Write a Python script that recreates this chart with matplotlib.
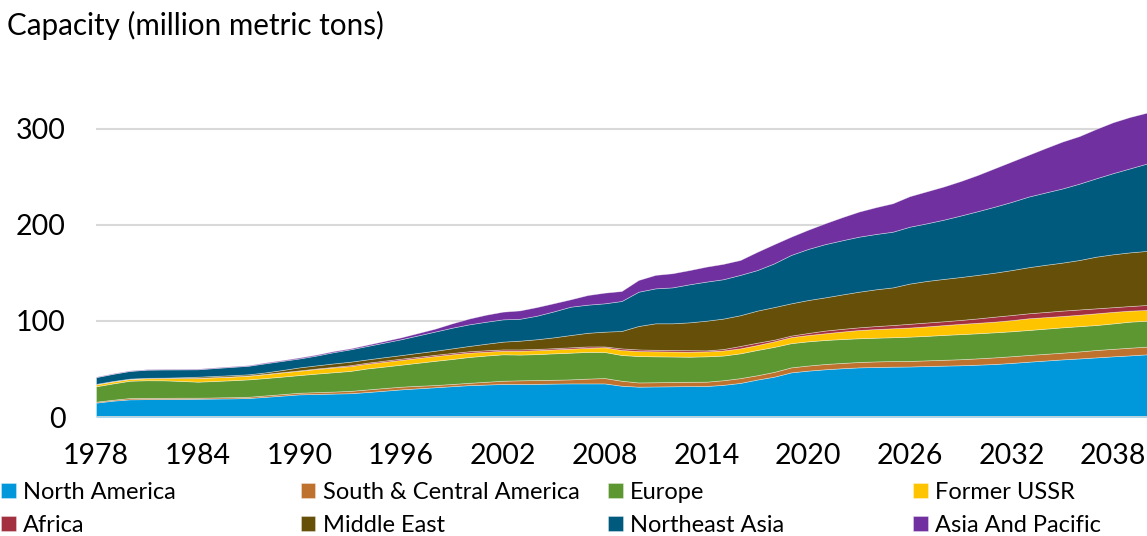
import numpy as np
import matplotlib
matplotlib.use("Agg")
import matplotlib.pyplot as plt

plt.rcParams['font.family'] = ['Lato', 'DejaVu Sans']

years = list(range(1978, 2041))

# cumulative tops, per region (bottom to top)
na_top = [15.0, 17.0, 18.4, 18.6, 18.7, 18.8, 19.0, 19.2, 19.4, 19.8, 21.0, 22.3, 23.6, 24.0, 24.4, 24.8,
          26.0, 27.4, 28.8, 29.9, 31.0, 32.1, 33.2, 33.8, 34.4, 34.4, 34.5, 34.8, 35.0, 35.0, 35.0, 32.6,
          31.6, 31.8, 32.0, 32.2, 32.3, 33.5, 35.5, 39.0, 42.0, 46.5, 48.3, 49.7, 50.8, 51.7, 52.1, 52.4,
          52.6, 53.1, 53.5, 53.9, 54.5, 55.2, 56.3, 57.6, 58.8, 60.0, 61.0, 62.1, 63.2, 64.2, 65.3]
sca_top = [16.0, 18.0, 19.8, 20.0, 20.0, 20.1, 20.1, 20.4, 20.7, 21.1, 22.5, 23.9, 25.3, 25.9, 26.5, 27.2,
           28.7, 30.2, 31.6, 32.5, 33.3, 34.4, 35.6, 36.7, 37.8, 38.2, 38.5, 38.8, 39.2, 40.0, 40.6, 37.8,
           36.0, 36.2, 36.5, 36.7, 36.8, 38.3, 40.5, 43.5, 47.0, 51.7, 53.6, 55.2, 56.3, 57.3, 57.9, 58.3,
           58.4, 59.0, 59.6, 60.2, 61.1, 62.1, 63.3, 64.6, 65.8, 67.0, 68.3, 69.8, 71.0, 72.2, 73.3]
eu_top = [32.0, 35.0, 37.8, 38.3, 38.2, 37.6, 36.8, 37.5, 38.3, 39.2, 40.6, 42.1, 43.7, 45.2, 46.6, 48.0,
          50.6, 52.5, 54.5, 56.5, 58.5, 60.4, 62.5, 64.0, 65.3, 65.0, 65.5, 66.3, 67.0, 67.8, 67.7, 64.6,
          63.5, 63.2, 63.0, 62.8, 63.2, 64.0, 66.3, 69.8, 73.0, 76.9, 78.8, 80.2, 81.2, 82.0, 82.6, 83.1,
          83.7, 84.5, 85.5, 86.3, 87.2, 88.2, 89.3, 90.6, 92.0, 93.4, 94.6, 95.8, 97.5, 99.3, 100.3]
fsu_top = [34.0, 37.0, 39.6, 40.3, 40.4, 40.5, 40.6, 41.3, 42.0, 43.0, 44.7, 46.5, 48.2, 50.0, 51.6, 53.0,
           55.5, 57.5, 59.5, 61.5, 63.5, 65.3, 67.0, 68.0, 69.0, 69.0, 69.6, 70.4, 71.2, 72.0, 72.6, 69.8,
           68.7, 68.4, 68.2, 68.0, 68.3, 69.3, 71.5, 75.0, 78.8, 83.2, 85.4, 87.2, 89.0, 90.6, 91.6, 92.4,
           93.2, 94.4, 95.7, 97.0, 98.1, 99.3, 100.9, 102.8, 104.0, 105.2, 106.5, 108.0, 109.5, 110.8, 111.5]
af_top = [34.2, 37.2, 39.8, 40.5, 40.6, 40.7, 40.8, 41.6, 42.3, 43.3, 45.0, 46.8, 48.6, 50.5, 52.2, 54.0,
          56.6, 58.7, 60.8, 62.8, 64.8, 66.7, 68.5, 69.5, 70.4, 70.4, 70.9, 71.7, 72.6, 73.5, 73.5, 71.5,
          70.4, 70.0, 69.8, 69.6, 69.4, 70.8, 74.0, 77.4, 80.5, 84.8, 87.5, 90.0, 91.8, 93.4, 94.7, 95.8,
          97.1, 98.4, 99.7, 101.1, 102.7, 104.5, 106.2, 108.0, 109.4, 110.8, 112.0, 113.2, 114.4, 115.6, 116.7]
me_top = [34.5, 37.5, 40.0, 40.8, 41.0, 41.4, 42.0, 42.8, 43.6, 44.5, 46.5, 49.0, 51.7, 53.8, 55.8, 57.6,
          60.0, 62.3, 64.5, 66.8, 69.0, 71.5, 74.0, 76.3, 78.5, 79.5, 81.0, 83.0, 85.4, 87.7, 88.9, 89.6,
          94.8, 97.6, 97.6, 98.6, 100.3, 102.5, 106.0, 110.8, 114.5, 118.4, 121.8, 124.6, 127.6, 130.5, 133.0, 135.0,
          139.0, 141.7, 143.8, 145.8, 148.0, 150.3, 153.0, 156.0, 158.5, 160.8, 163.5, 167.0, 169.5, 171.5, 173.0]
nea_top = [41.5, 45.0, 48.0, 49.3, 49.5, 49.6, 49.7, 51.0, 52.2, 53.4, 56.0, 58.5, 61.0, 64.0, 67.5, 70.5,
           74.0, 77.5, 81.0, 85.0, 89.0, 93.0, 96.5, 99.2, 101.7, 102.3, 105.5, 110.0, 114.9, 117.0, 118.4, 120.8,
           130.5, 134.0, 135.0, 138.2, 141.0, 143.5, 148.0, 153.0, 160.0, 168.8, 175.0, 180.0, 184.0, 187.8, 190.6, 193.0,
           198.2, 201.7, 205.5, 209.8, 214.3, 219.0, 224.0, 229.5, 233.8, 238.0, 243.0, 248.6, 254.0, 259.0, 264.0]
ap_top = [42.0, 45.5, 48.5, 49.8, 50.0, 50.1, 50.3, 51.6, 52.8, 54.0, 56.8, 59.3, 62.0, 65.0, 68.6, 71.5,
          75.3, 79.1, 83.0, 87.5, 92.0, 97.5, 102.5, 106.5, 109.7, 111.0, 114.5, 118.5, 122.6, 127.0, 129.5, 131.2,
          142.7, 148.0, 149.7, 153.0, 156.6, 159.5, 163.5, 172.0, 180.0, 187.8, 195.0, 201.7, 208.0, 213.9, 218.5, 222.6,
          230.0, 235.0, 240.0, 245.7, 252.0, 259.0, 266.0, 273.0, 280.0, 286.8, 292.5, 300.0, 307.0, 312.5, 317.0]

names = ['North America', 'South & Central America', 'Europe', 'Former USSR',
         'Africa', 'Middle East', 'Northeast Asia', 'Asia And Pacific']
colors = ['#0098DA', '#BE722E', '#5C9732', '#FFC400', '#A3303F', '#654F09', '#005A7E', '#7030A0']

tops = np.array([na_top, sca_top, eu_top, fsu_top, af_top, me_top, nea_top, ap_top])
layers = np.diff(np.vstack([np.zeros(len(years)), tops]), axis=0)

fig = plt.figure(figsize=(11.47, 5.36), dpi=100)
ax = fig.add_axes([0.0837, 0.222, 0.9163, 0.627])

polys = ax.stackplot(years, layers, colors=colors, labels=names,
                     edgecolor=(1, 1, 1, 0.45), linewidth=0.5, zorder=2)

ax.set_xlim(1978, 2040)
ax.set_ylim(0, 350)
ax.set_yticks([0, 100, 200, 300])
ax.set_xticks(list(range(1978, 2040, 6)))
ax.grid(axis='y', color='#d9d9d9', linewidth=1.5, zorder=0)
ax.axhline(0, color='#d9d9d9', linewidth=2, zorder=3)
for s in ax.spines.values():
    s.set_visible(False)
ax.tick_params(axis='both', length=0, labelsize=20.5)
ax.tick_params(axis='y', pad=22)
ax.tick_params(axis='x', pad=19)

fig.text(0.006, 0.952, 'Capacity (million metric tons)', fontsize=21.3, va='center', ha='left')

# legend, one column at a time so the columns sit at fixed places
col_x = [-0.009, 0.252, 0.52, 0.786]
for i in range(4):
    idx = [i, i + 4]
    fig.legend([polys[j] for j in idx], [names[j] for j in idx], loc='upper left',
               bbox_to_anchor=(col_x[i], 0.123), frameon=False, fontsize=17,
               handlelength=0.62, handleheight=0.62, handletextpad=0.3, labelspacing=0.5,
               borderpad=0)

fig.savefig('out.png', dpi=100)
